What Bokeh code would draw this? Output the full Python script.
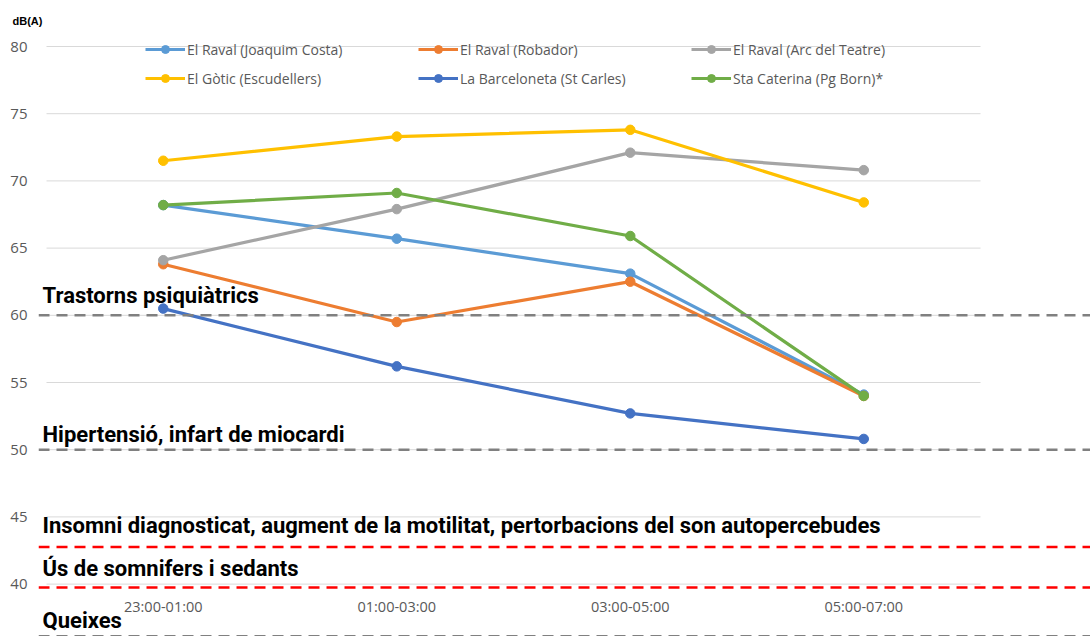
from bokeh.plotting import figure
from bokeh.models import Span, Legend, LegendItem, FixedTicker, ColumnDataSource, Range1d, Title
from bokeh.core.properties import value
from bokeh.embed import file_html
from bokeh.resources import INLINE

periods = ["23:00-01:00", "01:00-03:00", "03:00-05:00", "05:00-07:00"]
series_names = ["El Raval (Joaquim Costa)", "El Raval (Robador)", "El Raval (Arc del Teatre)",
                "El Gòtic (Escudellers)", "La Barceloneta (St Carles)", "Sta Caterina (Pg Born)*"]
joaquim_costa = [68.2, 65.7, 63.1, 54.1]
robador = [63.8, 59.5, 62.5, 54.0]
arc_teatre = [64.1, 67.9, 72.1, 70.8]
escudellers = [71.5, 73.3, 73.8, 68.4]
barceloneta = [60.5, 56.2, 52.7, 50.8]
sta_caterina = [68.2, 69.1, 65.9, 54.0]
series_values = [joaquim_costa, robador, arc_teatre, escudellers, barceloneta, sta_caterina]
series_colors = ["#5B9BD5", "#ED7D31", "#A5A5A5", "#FFC000", "#4472C4", "#70AD47"]

threshold_values = [60, 50, 42.76, 39.75, 36.12]
threshold_labels = ["Trastorns psiquiàtrics", "Hipertensió, infart de miocardi",
                    "Insomni diagnosticat, augment de la motilitat, pertorbacions del son autopercebudes",
                    "Ús de somnifers i sedants", "Queixes"]
threshold_colors = ["#808080", "#808080", "#FF0000", "#FF0000", "#808080"]
label_offsets = [-20, -15, -22, -19, -16]

y_ticks = [40, 45, 50, 55, 60, 65, 70, 75, 80]

xs = list(range(len(periods)))

TOP = 30  # frame top in page px
PX_PER_DB = 13.44
y_end = 80 + (46 - TOP) / PX_PER_DB
H = 636
y_start = 80 - (H - 46) / PX_PER_DB

p = figure(width=1090, height=H, output_backend="svg", toolbar_location=None,
           x_range=Range1d(-0.5343, 3.971), y_range=Range1d(y_start, y_end),
           min_border_left=38, min_border_right=0, min_border_top=TOP, min_border_bottom=0)
p.outline_line_color = None
p.xgrid.visible = False
p.ygrid.visible = False
p.xaxis.visible = False
p.yaxis.ticker = FixedTicker(ticks=y_ticks)
p.yaxis.axis_line_color = None
p.yaxis.major_tick_line_color = None
p.yaxis.minor_tick_line_color = None
p.yaxis.major_label_standoff = 5
p.yaxis.major_label_text_font = "Open Sans"
p.yaxis.major_label_text_font_size = "15px"
p.yaxis.major_label_text_color = "#595959"

title = Title(text="dB(A)", align="left", offset=-26, standoff=7,
              text_font="Liberation Sans", text_font_style="bold", text_font_size="11px",
              text_color="#000000")
p.add_layout(title, "above")

# gridlines across category area
p.segment(x0=[-0.5] * len(y_ticks), x1=[len(periods) - 0.5] * len(y_ticks), y0=y_ticks, y1=y_ticks,
          line_color="#D9D9D9", line_width=1)

# threshold lines
for v, c in zip(threshold_values, threshold_colors):
    p.add_layout(Span(location=v, dimension="width", line_color=c, line_width=2.5, line_dash="11 7"))

# threshold labels
p.text(x=[-0.517] * len(threshold_values), y=threshold_values, text=threshold_labels,
       y_offset=label_offsets, text_font=value("Roboto"), text_font_style="bold",
       text_font_size="22px", text_color="#000000", text_baseline="alphabetic", text_align="left")

# x category labels
p.text(x=xs, y=[40] * len(xs), text=periods, y_offset=22, text_font=value("Open Sans"),
       text_font_size="14.5px", text_color="#595959", text_baseline="middle", text_align="center")

items = []
for name, vals, col in zip(series_names, series_values, series_colors):
    src = ColumnDataSource(dict(x=xs, y=vals))
    l = p.line("x", "y", source=src, line_color=col, line_width=3.2)
    s = p.scatter("x", "y", source=src, size=9.5, fill_color=col, line_color=col)
    items.append(LegendItem(label=name, renderers=[l, s]))

frame_h = H - TOP
legend = Legend(items=items, location=(107, frame_h - (88 - TOP)), nrows=2, orientation="horizontal",
                glyph_width=40, glyph_height=20, label_height=20, label_width=222,
                label_standoff=2, spacing=9, padding=0, margin=0,
                label_text_font="Open Sans", label_text_font_size="14px", label_text_color="#595959",
                border_line_color=None, background_fill_alpha=0)
p.add_layout(legend, "center")

open("out.html", "w").write(file_html(p, INLINE))
